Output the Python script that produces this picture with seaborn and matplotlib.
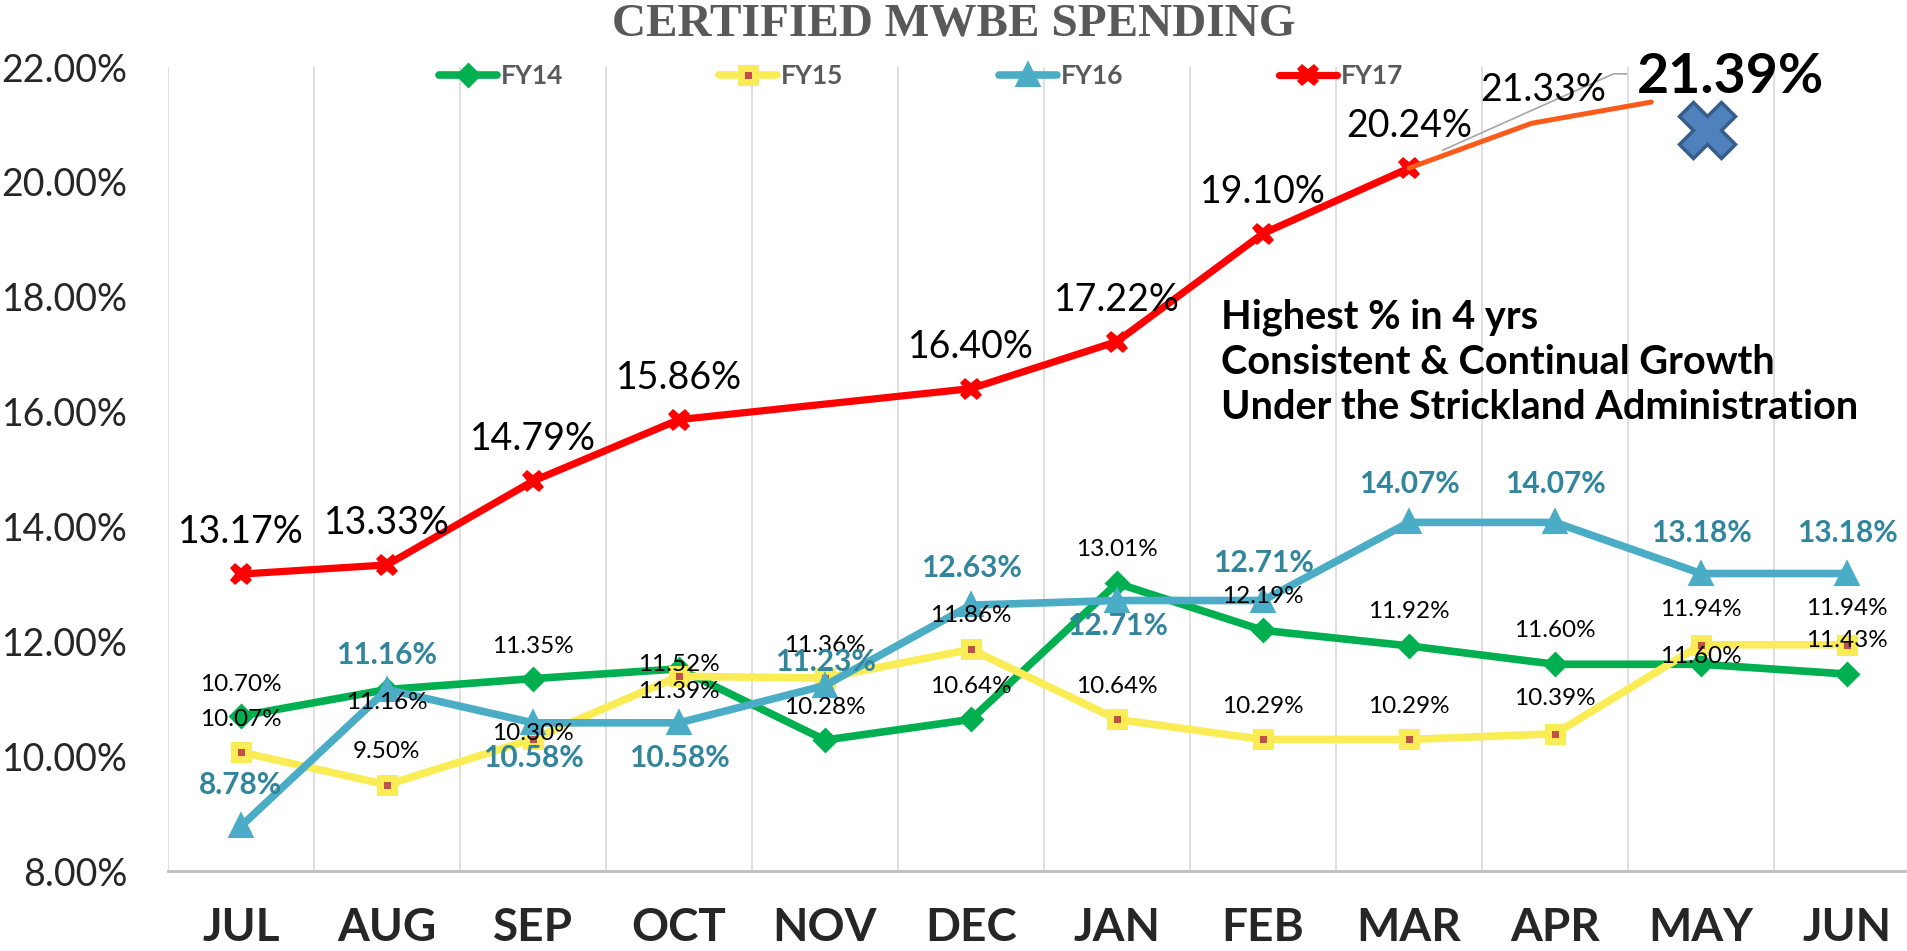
import numpy as np
import pandas as pd
import seaborn as sns
import matplotlib.pyplot as plt

months = ['JUL', 'AUG', 'SEP', 'OCT', 'NOV', 'DEC', 'JAN', 'FEB', 'MAR', 'APR', 'MAY', 'JUN']
fy14 = [10.70, 11.16, 11.35, 11.52, 10.28, 10.64, 13.01, 12.19, 11.92, 11.60, 11.60, 11.43]
fy15 = [10.07, 9.50, 10.30, 11.39, 11.36, 11.86, 10.64, 10.29, 10.29, 10.39, 11.94, 11.94]
fy16 = [8.78, 11.16, 10.58, 10.58, 11.23, 12.63, 12.71, 12.71, 14.07, 14.07, 13.18, 13.18]
fy17 = [13.17, 13.33, 14.79, 15.86, np.nan, 16.40, 17.22, 19.10, 20.24, np.nan, np.nan, np.nan]

# hand drawn projection after MAR
proj_pos = [8, 8.84, 9.66]
proj_vals = [20.24, 21.02, 21.39]
proj_label = '21.33%'
target_label = '21.39%'
target_pos = 10.04
target_val = 20.9
leader_x = [8.23, 9.40, 9.49]
leader_y = [20.55, 21.88, 21.88]

notes = ['Highest % in 4 yrs', 'Consistent & Continual Growth', 'Under the Strickland Administration']

# label offsets (pixels above the point, negative = below)
off14 = [31, -13, 32, 4, 33, 33, 34, 34, 34, 34, 8, 34]
off15 = [33, 33, 5, -15, 33, 34, 33, 33, 33, 35, 35, 36]
off16 = [41, 35, -35, -35, 24, 37, -25, 38, 38, 38, 41, 41]
off17 = [42] * 12

sns.set_style('white')
plt.rcParams['font.family'] = ['Lato', 'DejaVu Sans']

df = pd.DataFrame({'pos': np.arange(12), 'FY14': fy14, 'FY15': fy15, 'FY16': fy16, 'FY17': fy17})

fig = plt.figure(figsize=(19.07, 9.51), dpi=100)
ax = fig.add_axes([168 / 1907, 80 / 951, 1752 / 1907, 804 / 951])

styles = {
    'FY14': dict(color='#00b050', marker='D', markersize=11, markeredgewidth=2, markerfacecolor='#00b050', markeredgecolor='#00b050'),
    'FY15': dict(color='#f9ec55', marker='s', markersize=10, markeredgewidth=5, markerfacecolor='#c0504d', markeredgecolor='#f9ec55'),
    'FY16': dict(color='#4bacc6', marker='^', markersize=15, markeredgewidth=3, markerfacecolor='#4bacc6', markeredgecolor='#4bacc6'),
    'FY17': dict(color='#ff0000', marker='X', markersize=16, markeredgewidth=0, markerfacecolor='#ff0000'),
}
widths = {'FY14': 5.5, 'FY15': 5.5, 'FY16': 5.5, 'FY17': 5.2}

for name in ['FY14', 'FY15', 'FY16', 'FY17']:
    d = df[['pos', name]].dropna()
    sns.lineplot(data=d, x='pos', y=name, ax=ax, estimator=None, sort=False, label=name,
                 linewidth=widths[name], solid_capstyle='round', solid_joinstyle='round', **styles[name])

# projection
sns.lineplot(x=proj_pos, y=proj_vals, ax=ax, color='#fa5b1b', linewidth=3.6, estimator=None, sort=False,
             label='_nolegend_')
ax.plot(leader_x, leader_y, color='#a6a6a6', lw=1.2, zorder=4)
ax.plot([target_pos], [target_val], marker='X', markersize=40, color='#4f81bd', markeredgecolor='#385d8a',
        markeredgewidth=2.5, zorder=6, linestyle='none')
ax.text(8.92, 21.6, proj_label, fontsize=27, ha='center', va='center', color='black', zorder=7)
ax.text(10.2, 21.83, target_label, fontsize=40, fontweight='bold', ha='center', va='center', color='black', zorder=7)

# data labels
def add_labels(vals, offs, color, size, weight):
    for i, v in enumerate(vals):
        if np.isnan(v):
            continue
        ax.annotate(f'{v:.2f}%', (i, v), xytext=(0, offs[i] * 0.72), textcoords='offset points',
                    ha='center', va='center', fontsize=size, color=color, fontweight=weight, zorder=8)

add_labels(fy14, off14, 'black', 17.5, 'normal')
add_labels(fy15, off15, 'black', 17.5, 'normal')
add_labels(fy16, off16, '#31859c', 21.5, 'bold')
add_labels(fy17, off17, 'black', 27, 'normal')

ax.text(6.71, 16.86, '\n'.join(notes), fontsize=28.6, fontweight='bold', ha='left', va='center',
        linespacing=1.28, color='black', zorder=7)

# axes
ax.set_xlim(-0.5, 11.5)
ax.set_ylim(8, 22)
ax.set_xticks(np.arange(12))
ax.set_xticklabels(months, fontsize=33, fontweight='bold')
ax.set_xticks(np.arange(-0.5, 12, 1), minor=True)
ax.set_yticks(np.arange(8, 23, 2))
ax.set_yticklabels([f'{t:.2f}%' for t in np.arange(8, 23, 2)], fontsize=27)
ax.tick_params(axis='x', which='both', length=0, pad=26)
ax.tick_params(axis='y', length=0, pad=29)
ax.grid(False)
ax.grid(axis='x', which='minor', color='#d9d9d9', linewidth=1.2)
ax.set_xlabel('')
ax.set_ylabel('')
for s in ['top', 'right', 'left']:
    ax.spines[s].set_visible(False)
ax.spines['bottom'].set_color('#bfbfbf')
ax.spines['bottom'].set_linewidth(2)

leg = ax.legend(loc='center', bbox_to_anchor=(921 / 1907, 1 - 76 / 951), bbox_transform=fig.transFigure,
                ncol=4, frameon=False, handlelength=2.2, handletextpad=0.15, columnspacing=5.9,
                prop=dict(weight='bold', size=19))
for t in leg.get_texts():
    t.set_color('#595959')

fig.text(0.5, 1 - 25 / 951, 'CERTIFIED MWBE SPENDING', ha='center', va='center', fontsize=34,
         fontweight='bold', color='#595959', family=['Liberation Serif', 'DejaVu Serif'])

plt.savefig('out.png', dpi=100)
plt.close()
